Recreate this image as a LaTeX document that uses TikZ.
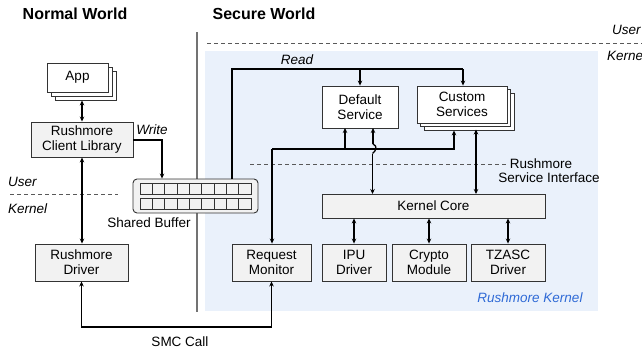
\documentclass[tikz,border=0pt]{standalone}
\usepackage{fontspec}
\setmainfont{Liberation Sans}
\usetikzlibrary{arrows.meta,calc}
\definecolor{kbg}{HTML}{EAF1FB}
\definecolor{boxgray}{HTML}{F2F2F2}
\definecolor{edge}{HTML}{333333}
\definecolor{kblue}{HTML}{2F6AD6}
\begin{document}
\begin{tikzpicture}[x=1pt,y=-1pt,
  every node/.style={font=\fontsize{13.5}{15}\selectfont, inner sep=0pt},
  blk/.style={draw=edge, line width=0.9pt, fill=boxgray, align=center},
  wblk/.style={draw=edge, line width=0.9pt, fill=white, align=center},
  conn/.style={line width=1.3pt, black},
  tip/.style={-{Stealth[length=5pt,width=4.5pt]}},
  tips/.style={{Stealth[length=5pt,width=4.5pt]}-{Stealth[length=5pt,width=4.5pt]}},
  sep/.style={dashed, dash pattern=on 4pt off 3pt, draw=black!65, line width=0.8pt},
  lbl/.style={font=\fontsize{13.5}{15}\selectfont\itshape},
  title/.style={font=\fontsize{16}{18}\selectfont\bfseries}
]
\useasboundingbox (0,0) rectangle (642,351);

% secure kernel region
\fill[kbg] (205,51) rectangle (598,311);

% world separator
\draw[black!55, line width=1.3pt] (197,32) -- (197,312);

% titles
\node[title] (nw) at (75,14) {Normal World};
\node[title] (sw) at (264,14) {Secure World};

% user / kernel boundaries
\draw[sep] (207,43) -- (645,43);
\node[lbl, anchor=west] (uR) at (612,30) {User};
\node[lbl, anchor=west] (kR) at (607,56) {Kernel};
\draw[sep] (10,194) -- (118,194);
\node[lbl, anchor=west] (uL) at (8,182) {User};
\node[lbl, anchor=west] (kL) at (8,209) {Kernel};

% normal world components
\node[wblk, minimum width=61pt, minimum height=29pt] (app3) at (85.5,85.5) {};
\node[wblk, minimum width=61pt, minimum height=29pt] (app2) at (81.5,81.5) {};
\node[wblk, minimum width=61pt, minimum height=29pt] (app) at (77.5,77.5) {App};
\node[blk, minimum width=102pt, minimum height=35pt] (lib) at (82,139.5) {Rushmore\\Client Library};
\node[blk, minimum width=93pt, minimum height=37pt] (drv) at (81.5,262.5) {Rushmore\\Driver};

% shared buffer
\node[draw=edge, line width=0.9pt, fill=boxgray, rounded corners=4pt,
      minimum width=125pt, minimum height=34pt] (buf) at (195.5,196) {};
\foreach \i in {0,...,8} {
  \draw[draw=edge, line width=0.8pt, fill=boxgray]
    ({140+\i*12.33},183) rectangle ({140+(\i+1)*12.33},194);
  \draw[draw=edge, line width=0.8pt, fill=boxgray]
    ({140+\i*12.33},198) rectangle ({140+(\i+1)*12.33},209);
}
\node (bufl) at (149,223) {Shared Buffer};

% secure world components
\node[blk, minimum width=79pt, minimum height=37pt] (mon) at (271.5,262.5) {Request\\Monitor};
\node[wblk, minimum width=76pt, minimum height=42pt] (def) at (360,107) {Default\\Service};
\node[wblk, minimum width=90pt, minimum height=37pt] (cust3) at (469,111.5) {};
\node[wblk, minimum width=90pt, minimum height=37pt] (cust2) at (465.5,108) {};
\node[wblk, minimum width=90pt, minimum height=37pt] (cust) at (462,104.5) {Custom\\Services};
\node[blk, minimum width=223pt, minimum height=24pt] (core) at (433.5,206) {Kernel Core};
\node[blk, minimum width=64pt, minimum height=37pt] (ipu) at (354,262.5) {IPU\\Driver};
\node[blk, minimum width=74pt, minimum height=37pt] (cry) at (429,262.5) {Crypto\\Module};
\node[blk, minimum width=74pt, minimum height=37pt] (tz) at (508,262.5) {TZASC\\Driver};
\node[font=\fontsize{13.5}{15}\selectfont\itshape, text=kblue] (rk) at (530,298) {Rushmore Kernel};

% service interface boundary
\draw[sep] (250,164) -- (507,164);
\node (si1) at (541,164) {Rushmore};
\node (si2) at (549,178) {Service Interface};

% normal world connectors
\draw[conn, tips] (lib.north) -- (lib.north |- app3.south);
\draw[conn, tips] (lib.south) -- (lib.south |- drv.north);
\coordinate (wr) at (162,140);
\draw[conn, tip] (lib.east |- wr) -| (buf.north -| wr);
\node[lbl] (wlab) at (152,130) {Write};

% read path
\coordinate (rd0) at (232,179);
\coordinate (rd1) at (232,69);
\coordinate (rd2) at (463,69);
\draw[conn] (rd0) -- (rd1) -- (rd2);
\draw[conn, tip] (rd1 -| def.north) -- (def.north);
\draw[conn, tip] (rd2) -- (rd2 |- cust.north);
\node[lbl] (rlab) at (297,60) {Read};

% request bus
\coordinate (bus0) at (272,149);
\coordinate (bus1) at (454,149);
\draw[conn, tip] (bus0) -- (bus0 |- mon.north);
\draw[conn, tip] (bus0) -- (bus1) -- (bus1 |- cust3.south);
\draw[conn, tip] (345,149) -- (345,128);

% service to kernel core
\coordinate (dv) at (373,128);
\draw[conn, tip] (373,144) -- (dv);
\draw[conn] (373,144) .. controls (378,146) and (376,151) .. (372.5,153.5);
\draw[conn, tip] (372.5,153.5) -- (372.5,194);
\draw[conn, tips] (476,129.5) -- (476,194);

% kernel core to drivers
\draw[conn, tips] (core.south -| ipu) -- (ipu.north);
\draw[conn, tips] (core.south -| cry) -- (cry.north);
\draw[conn, tips] (core.south -| tz) -- (tz.north);

% SMC call
\coordinate (smc) at (82,327);
\draw[conn, tips] (drv.south) |- (smc -| mon.south) -- (mon.south);
\node (smcl) at (180,342) {SMC Call};
\end{tikzpicture}
\end{document}
